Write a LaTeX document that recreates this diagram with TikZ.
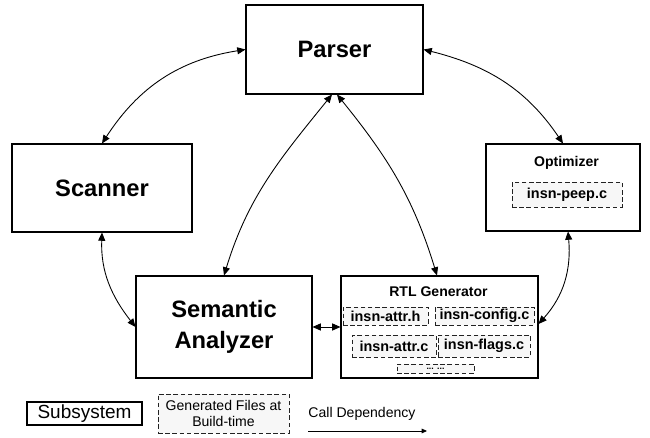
\documentclass[tikz,border=0pt]{standalone}
\usepackage{fontspec}
\setmainfont{Liberation Sans}
\usepackage{xcolor}
\usepackage{tikz}
\usetikzlibrary{arrows.meta,positioning}
\definecolor{CGBlack}{HTML}{000000}
\definecolor{CGDash}{HTML}{222222}
\definecolor{CGGenFill}{HTML}{F7F7F7}
\definecolor{CGWhite}{HTML}{FFFFFF}
\tikzset{
  callarr/.style={{Triangle[length=4.7pt,width=4pt]}-{Triangle[length=4.7pt,width=4pt]},line width=0.5pt,color=CGBlack},
  legarr/.style={-{Triangle[length=3pt,width=2.6pt]},line width=0.5pt,color=CGBlack},
  subsys/.style={draw=CGBlack,fill=CGWhite,line width=0.6pt,inner sep=0pt,align=center},
  genfile/.style={draw=CGDash,fill=CGGenFill,line width=0.5pt,inner sep=0pt,align=center,
                  dash pattern=on 2.6pt off 1.5pt,font=\fontsize{8.2}{10}\selectfont\bfseries},
  bigname/.style={font=\fontsize{13.5}{18}\selectfont\bfseries},
  smallname/.style={font=\fontsize{8}{9.5}\selectfont\bfseries,inner sep=0pt}
}
\begin{document}
\begin{tikzpicture}[x=0.02cm,y=0.02cm]
    \useasboundingbox (0,0) rectangle (650,438);
    % Subsystems
    \node[subsys,bigname,minimum width=3.54cm,minimum height=1.78cm] (parser) at (334.5,388.5) {Parser};
    \node[subsys,bigname,minimum width=3.6cm,minimum height=1.76cm] (scanner) at (102,250) {Scanner};
    \node[subsys,bigname,minimum width=3.52cm,minimum height=2.04cm] (semantic) at (224,111) {Semantic\\Analyzer};
    \node[subsys,minimum width=3.94cm,minimum height=2.04cm] (rtl) at (439.5,111) {};
    \node[subsys,minimum width=3.08cm,minimum height=1.74cm] (optimizer) at (563,250.5) {};
    \node[smallname] (rtltitle) at (438.5,146) {RTL Generator};
    \node[smallname] (opttitle) at (566.5,274.7) {Optimizer};
    % Generated files at build-time
    \node[genfile,minimum width=1.7cm,minimum height=0.36cm] (attrh) at (385.5,122) {insn-attr.h};
    \node[genfile,minimum width=1.98cm,minimum height=0.36cm] (config) at (484.5,122) {insn-config.c};
    \node[genfile,minimum width=1.68cm,minimum height=0.44cm] (attrc) at (394,92) {insn-attr.c};
    \node[genfile,minimum width=1.84cm,minimum height=0.44cm] (flags) at (484,92) {insn-flags.c};
    \node[genfile,minimum width=1.54cm,minimum height=0.18cm,font=\fontsize{5}{5}\selectfont\bfseries] (more) at (435.5,69.5) {... ...};
    \node[genfile,minimum width=2.2cm,minimum height=0.5cm] (peep) at (567,243.5) {insn-peep.c};
    % Call dependencies
    \draw[callarr] (scanner.north) to[out=57,in=189] (parser.west);
    \draw[callarr] (parser.east) to[out=-14,in=124] (optimizer.north);
    \draw[callarr] ([xshift=-0.05cm]parser.south) to[out=231,in=73] (semantic.north);
    \draw[callarr] ([xshift=0.05cm]parser.south) to[out=-51,in=107] ([xshift=-0.05cm]rtl.north);
    \draw[callarr] (scanner.south) to[out=-92,in=128] (semantic.west);
    \draw[callarr] (semantic.east) -- (rtl.west);
    \draw[callarr] ([yshift=0.06cm]rtl.east) to[out=48,in=-85] ([xshift=0.1cm]optimizer.south);
    % Legend
    \node[subsys,minimum width=2.3cm,minimum height=0.46cm,font=\fontsize{10.8}{12}\selectfont] (lgsub) at (84.5,24.5) {Subsystem};
    \node[genfile,minimum width=2.62cm,minimum height=0.78cm,font=\fontsize{8}{9}\selectfont] (lggen) at (223.5,24.5) {Generated Files at\\Build-time};
    \node[font=\fontsize{8}{9}\selectfont,inner sep=0pt] (lgcall) at (362,24) {Call Dependency};
    \coordinate (lgA) at (308,7);
    \coordinate (lgB) at (427,7);
    \draw[legarr] (lgA) -- (lgB);
\end{tikzpicture}
\end{document}
